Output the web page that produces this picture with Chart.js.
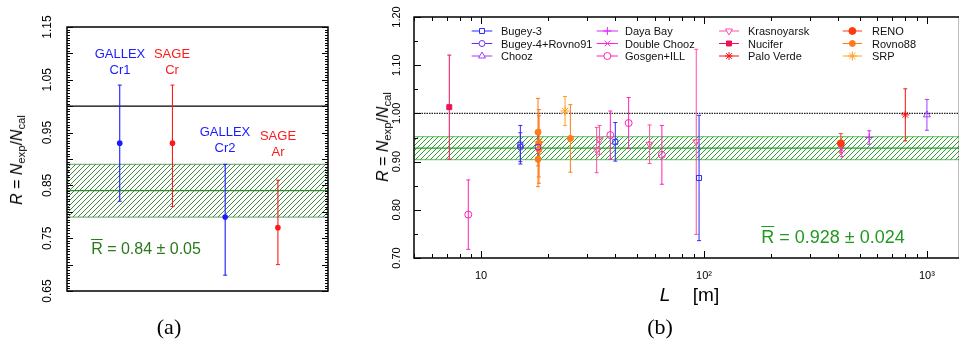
<!DOCTYPE html>
<html><head><meta charset="utf-8">
<script src="https://cdn.jsdelivr.net/npm/chart.js@4.4.1/dist/chart.umd.min.js"></script>
<style>
html,body{margin:0;padding:0;background:#fff;}
body{width:959px;height:341px;position:relative;overflow:hidden;font-family:"Liberation Sans",Arial,Helvetica,sans-serif;}
canvas{position:absolute;top:0;}
#ca{left:0;}
#cb{left:330px;}
.t{position:absolute;white-space:nowrap;line-height:1;transform:translate(-50%,-50%);}
.l{position:absolute;white-space:nowrap;line-height:1;transform:translate(0,-50%);font-size:11px;color:#111;}
.rot{transform:translate(-50%,-50%) rotate(-90deg);}
.ser{font-family:"Liberation Serif","DejaVu Serif",serif;}
i{font-style:italic;}
sub{font-size:70%;vertical-align:-0.3em;line-height:0;}
.ov{text-decoration:overline;}
</style></head><body>
<canvas id="ca" width="330" height="341"></canvas>
<canvas id="cb" width="629" height="341"></canvas>

<div class="t rot" style="left:17px;top:160px;font-size:16px;"><i>R</i> = <i>N</i><sub>exp</sub>/<i>N</i><sub>cal</sub></div>
<div class="t rot" style="left:383px;top:137px;font-size:16px;"><i>R</i> = <i>N</i><sub>exp</sub>/<i>N</i><sub>cal</sub></div>

<div class="t" style="left:120px;top:53px;font-size:13px;color:#1a1aff;">GALLEX</div>
<div class="t" style="left:120px;top:69px;font-size:13px;color:#1a1aff;">Cr1</div>
<div class="t" style="left:172px;top:53px;font-size:13px;color:#ff1a1a;">SAGE</div>
<div class="t" style="left:172px;top:69px;font-size:13px;color:#ff1a1a;">Cr</div>
<div class="t" style="left:225px;top:131px;font-size:13px;color:#1a1aff;">GALLEX</div>
<div class="t" style="left:225px;top:147px;font-size:13px;color:#1a1aff;">Cr2</div>
<div class="t" style="left:278px;top:135px;font-size:13px;color:#ff1a1a;">SAGE</div>
<div class="t" style="left:278px;top:151px;font-size:13px;color:#ff1a1a;">Ar</div>
<div class="t" style="left:146px;top:249px;font-size:16px;color:#2a7a1a;"><span class="ov">R</span> = 0.84 ± 0.05</div>
<div class="t" style="left:833px;top:237px;font-size:18px;color:#1f9a1f;"><span class="ov">R</span> = 0.928 ± 0.024</div>

<div class="t" style="left:665px;top:294px;font-size:19px;"><i>L</i></div>
<div class="t" style="left:706px;top:294px;font-size:19px;">[m]</div>
<div class="t ser" style="left:169px;top:327px;font-size:22px;">(a)</div>
<div class="t ser" style="left:660px;top:327px;font-size:22px;">(b)</div>
<div id="legendText"></div>

<script>
// ---------------- Panel (a) data ----------------
const catA = ['GALLEX Cr1', 'SAGE Cr', 'GALLEX Cr2', 'SAGE Ar'];
const valA = [0.93, 0.93, 0.79, 0.77];
const errUpA = [0.11, 0.11, 0.10, 0.09];
const errLoA = [0.11, 0.12, 0.11, 0.07];
const meanA = 0.84, sigA = 0.05;
const yTicksA = [0.65, 0.75, 0.85, 0.95, 1.05, 1.15];

// ---------------- Panel (b) data ----------------
const expNames = ['Bugey-3', 'Bugey-4+Rovno91', 'Chooz', 'Daya Bay', 'Double Chooz', 'Gosgen+ILL',
                  'Krasnoyarsk', 'Nucifer', 'Palo Verde', 'RENO', 'Rovno88', 'SRP'];
const ptExp = [0, 0, 0, 1, 1, 2, 3, 4, 5, 5, 5, 5, 6, 6, 6, 6, 7, 8, 9, 10, 10, 10, 10, 10, 11, 11];
const ptL   = [15, 40, 95, 15, 18, 1000, 551, 415, 8.76, 38, 45.9, 64.7, 33, 34, 57, 92.3, 7.2, 800, 411,
               18.0, 18.0, 18.15, 18.18, 25.15, 18.2, 23.8];
const ptR   = [0.935, 0.941, 0.866, 0.93, 0.93, 0.997, 0.950, 0.925, 0.79, 0.955, 0.98, 0.914,
               0.924, 0.945, 0.936, 0.941, 1.013, 0.997, 0.938, 0.961, 0.905, 0.938, 0.925, 0.948, 0.941, 1.005];
const ptErr = [0.04, 0.04, 0.13, 0.03, 0.03, 0.032, 0.014, 0.015, 0.072, 0.05, 0.053, 0.061,
               0.047, 0.03, 0.04, 0.192, 0.108, 0.054, 0.02, 0.07, 0.057, 0.07, 0.07, 0.07, 0.025, 0.03];
const meanB = 0.928, sigB = 0.024;
const yTicksB = [0.70, 0.80, 0.90, 1.00, 1.10, 1.20];
const xTicksB = [10, 100, 1000];
const xTickLabelsB = ['10', '10\u00B2', '10\u00B3'];

// ---------------- styles ----------------
const colA = ['#1a1aff', '#ff1a1a', '#1a1aff', '#ff1a1a'];
const expColors = ['#2b2bff', '#6a2cf0', '#a23cff', '#dd22ff', '#ff22dd', '#ff22bb',
                   '#ff4da6', '#ee1155', '#ff1111', '#ff3a10', '#ff7a1a', '#ffa020'];
const expStyle = ['rect', 'circle', 'triangle', 'cross', 'crossRot', 'circle', 'triangle', 'rect', 'star', 'circle', 'circle', 'star'];
const expRot = [0, 0, 0, 0, 0, 0, 180, 0, 0, 0, 0, 0];
const expRad = [3.5, 3, 4, 4, 4, 3.5, 4, 3.5, 4, 3.5, 3, 4.5];
const expFill = [false, false, false, false, false, false, false, true, false, true, true, false];
const legendCols = [[141.7, 162.3, 501], [266.7, 288, 625], [389, 409, 748], [512.7, 532, 872]];
const legendRows = [31, 43.5, 56];
const FONT = '"Liberation Sans", Arial, Helvetica, sans-serif';

function hatch(color, size) {
  const c = document.createElement('canvas'); c.width = size; c.height = size;
  const g = c.getContext('2d');
  g.strokeStyle = color; g.lineWidth = 1;
  g.beginPath();
  g.moveTo(0, size); g.lineTo(size, 0);
  g.moveTo(-1, 1); g.lineTo(1, -1);
  g.moveTo(size - 1, size + 1); g.lineTo(size + 1, size - 1);
  g.stroke();
  return g.createPattern(c, 'repeat');
}

const frameTicks = {
  id: 'frameTicks',
  afterDraw(chart, args, opts) {
    const {ctx, chartArea: a, scales} = chart;
    ctx.save();
    ctx.strokeStyle = '#000'; ctx.lineWidth = 1;
    ctx.beginPath();
    (opts.y || []).forEach(t => {
      const p = Math.round(scales.y.getPixelForValue(t[0])) + 0.5;
      ctx.moveTo(a.left, p); ctx.lineTo(a.left + t[1], p);
      if (opts.mirrorY) { ctx.moveTo(a.right, p); ctx.lineTo(a.right - t[1], p); }
    });
    (opts.x || []).forEach(t => {
      const p = Math.round(scales.x.getPixelForValue(t[0])) + 0.5;
      ctx.moveTo(p, a.bottom); ctx.lineTo(p, a.bottom - t[1]);
      ctx.moveTo(p, a.top); ctx.lineTo(p, a.top + t[1]);
    });
    ctx.stroke();
    ctx.lineWidth = 1.5;
    ctx.strokeRect(a.left, a.top, a.right - a.left, a.bottom - a.top);
    ctx.restore();
  }
};

const legendPlugin = {
  id: 'legendSamples',
  afterDatasetsDraw(chart) {
    const ctx = chart.ctx;
    ctx.save();
    expNames.forEach((n, e) => {
      const col = legendCols[Math.floor(e / 3)], y = legendRows[e % 3];
      ctx.strokeStyle = expColors[e]; ctx.lineWidth = 1;
      ctx.beginPath(); ctx.moveTo(col[0], y); ctx.lineTo(col[1], y); ctx.stroke();
      ctx.fillStyle = expFill[e] ? expColors[e] : '#fff';
      Chart.helpers.drawPoint(ctx, {pointStyle: expStyle[e], rotation: expRot[e], radius: expRad[e], borderWidth: 1},
        (col[0] + col[1]) / 2, y);
    });
    ctx.restore();
  }
};

function yAxis(ticks, width, size, pad) {
  return {
    type: 'linear', min: ticks[0], max: ticks[ticks.length - 1],
    afterFit: s => { s.width = width; s.paddingTop = 0; s.paddingBottom = 0; },
    afterBuildTicks: s => { s.ticks = ticks.map(v => ({value: v})); },
    grid: {display: false, drawTicks: false, tickLength: 0},
    border: {display: false},
    ticks: {font: {family: FONT, size: size}, color: '#000', minRotation: 90, maxRotation: 90,
            crossAlign: 'center', padding: pad, autoSkip: false, callback: v => Number(v).toFixed(2)}
  };
}
function hline(x0, x1, y, color, w, dash) {
  return {type: 'line', data: [{x: x0, y: y}, {x: x1, y: y}], borderColor: color, borderWidth: w,
          borderDash: dash || [], pointRadius: 0, fill: false};
}
// build a chart; if the layout leaves the plot's right edge short, widen the canvas and rebuild
function makeChart(id, buildConfig, targetRight) {
  const cv = document.getElementById(id);
  let ch = new Chart(cv, buildConfig());
  const loss = Math.round(targetRight - ch.chartArea.right);
  if (loss !== 0) {
    const w = ch.width + loss, h = ch.height;
    ch.destroy();
    cv.width = w; cv.height = h;
    cv.style.width = w + 'px'; cv.style.height = h + 'px';
    ch = new Chart(cv, buildConfig());
  }
  return ch;
}

// ---------------- Chart (a) ----------------
const XMAXA = 4.95;
function configA() {
  const dsA = [];
  dsA.push({type: 'scatter', data: valA.map((v, i) => ({x: i + 1, y: v})), pointStyle: 'circle',
            pointRadius: 2.8, pointBackgroundColor: colA, pointBorderColor: colA, pointBorderWidth: 0});
  valA.forEach((v, i) => {
    dsA.push({type: 'scatter', showLine: true, data: [{x: i + 1, y: v - errLoA[i]}, {x: i + 1, y: v + errUpA[i]}],
              borderColor: colA[i], borderWidth: 1.1, pointStyle: 'line', pointRadius: 2,
              pointBorderColor: colA[i], pointBorderWidth: 1});
  });
  dsA.push(hline(0, XMAXA, 1.0, '#000', 1.2));
  dsA.push(hline(0, XMAXA, meanA, '#2f8a2f', 1.2));
  dsA.push(hline(0, XMAXA, meanA - sigA, 'rgba(50,130,50,0.6)', 1.2));
  dsA.push(Object.assign(hline(0, XMAXA, meanA + sigA, 'rgba(50,130,50,0.6)', 1.2),
    {fill: {value: meanA - sigA}, backgroundColor: hatch('#3f8a3f', 5)}));
  const yT = [];
  for (let k = 0; k <= 100; k++) yT.push([0.65 + k * 0.005, k % 10 === 0 ? 6 : 3]);
  return {
    type: 'scatter',
    data: {datasets: dsA},
    options: {
      responsive: false, animation: false, events: [],
      layout: {padding: {top: 27, right: 2, bottom: 50, left: 0}},
      plugins: {legend: {display: false}, tooltip: {enabled: false},
                frameTicks: {y: yT, mirrorY: true}},
      scales: {
        x: {type: 'linear', min: 0, max: XMAXA, display: false},
        y: yAxis(yTicksA, 67, 12, 8)
      }
    },
    plugins: [frameTicks]
  };
}
makeChart('ca', configA, 328);

// ---------------- Chart (b) ----------------
const XMIN = 5, XMAX = 1400;
function configB() {
  const dsB = [];
  expNames.forEach((n, e) => {
    const idx = ptExp.map((x, i) => x === e ? i : -1).filter(i => i >= 0);
    dsB.push({type: 'scatter', data: idx.map(i => ({x: ptL[i], y: ptR[i]})),
              pointStyle: expStyle[e], rotation: expRot[e], pointRadius: expRad[e],
              pointBorderColor: expColors[e], pointBackgroundColor: expFill[e] ? expColors[e] : 'rgba(255,255,255,0)',
              pointBorderWidth: 1});
  });
  expNames.forEach((n, e) => {
    const idx = ptExp.map((x, i) => x === e ? i : -1).filter(i => i >= 0);
    dsB.push({type: 'scatter', showLine: true, spanGaps: false,
              data: idx.flatMap(i => [{x: ptL[i], y: ptR[i] - ptErr[i]}, {x: ptL[i], y: ptR[i] + ptErr[i]}, {x: ptL[i], y: null}]),
              borderColor: expColors[e], borderWidth: 1, pointStyle: 'line', pointRadius: 2,
              pointBorderColor: expColors[e], pointBorderWidth: 1});
  });
  dsB.push(hline(XMIN, XMAX, 1.0, '#222', 1.2, [1.5, 1]));
  dsB.push(hline(XMIN, XMAX, meanB, '#22a022', 1.2));
  dsB.push(hline(XMIN, XMAX, meanB - sigB, 'rgba(40,170,40,0.6)', 1.2));
  dsB.push(Object.assign(hline(XMIN, XMAX, meanB + sigB, 'rgba(40,170,40,0.6)', 1.2),
    {fill: {value: meanB - sigB}, backgroundColor: hatch('#2f9f2f', 5)}));
  const yTB = [];
  for (let k = 0; k <= 10; k++) yTB.push([0.70 + k * 0.05, k % 2 === 0 ? 7 : 4]);
  const xTB = [];
  [1, 10, 100, 1000].forEach(d => { for (let m = 1; m <= 9; m++) { const v = m * d; if (v >= XMIN && v <= XMAX) xTB.push([v, m === 1 ? 7 : 4]); } });
  return {
    type: 'scatter',
    data: {datasets: dsB},
    options: {
      responsive: false, animation: false, events: [],
      layout: {padding: {top: 17, right: 0, bottom: 0, left: 0}},
      plugins: {legend: {display: false}, tooltip: {enabled: false},
                frameTicks: {y: yTB, x: xTB, mirrorY: false}},
      scales: {
        x: {type: 'logarithmic', min: XMIN, max: XMAX,
            afterFit: s => { s.height = 83; s.paddingLeft = 0; s.paddingRight = 0; },
            afterBuildTicks: s => { s.ticks = xTicksB.map(v => ({value: v})); },
            grid: {display: false, drawTicks: false, tickLength: 0}, border: {display: false},
            ticks: {font: {family: FONT, size: 11}, color: '#000', padding: 11, autoSkip: false,
                    maxRotation: 0, minRotation: 0,
                    callback: (v, i) => xTickLabelsB[xTicksB.indexOf(v)] ?? xTickLabelsB[i]}},
        y: yAxis(yTicksB, 84, 11, 6)
      }
    },
    plugins: [frameTicks, legendPlugin]
  };
}
makeChart('cb', configB, 629);

// legend text (HTML)
const lt = document.getElementById('legendText');
expNames.forEach((n, e) => {
  const d = document.createElement('div');
  d.className = 'l';
  d.style.left = legendCols[Math.floor(e / 3)][2] + 'px';
  d.style.top = legendRows[e % 3] + 'px';
  d.textContent = n;
  lt.appendChild(d);
});
</script>
</body></html>
